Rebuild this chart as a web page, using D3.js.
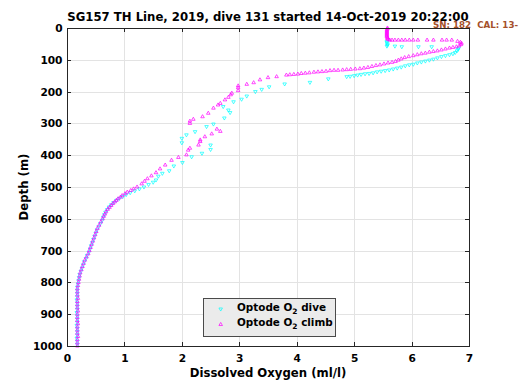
<!DOCTYPE html>
<html><head><meta charset="utf-8">
<script src="https://cdn.jsdelivr.net/npm/d3@7"></script>
<style>
body{margin:0;background:#fff}
svg{display:block}
text{font-family:"DejaVu Sans",sans-serif;font-weight:bold}
</style>
</head><body>
<svg id="chart" width="520" height="390"></svg>
<script>
// ---- data ----
const xTicks = [0, 1, 2, 3, 4, 5, 6, 7];
const yTicks = [0, 100, 200, 300, 400, 500, 600, 700, 800, 900, 1000];
const titleText = "SG157 TH Line, 2019, dive 131 started 14-Oct-2019 20:22:00";
const subtitleText = "SN: 182  CAL: 13-";
const xLabelText = "Dissolved Oxygen (ml/l)";
const yLabelText = "Depth (m)";
const legendNames = ["dive", "climb"];

// [O2 (ml/l), depth (m)]
const diveData = [
  [5.57,42],[5.57,46],[5.58,50],[5.58,54],[5.57,57],
  [5.71,57],[5.83,59],[6.12,59],[6.35,59],
  [6.82,63],[6.81,67],[6.79,72],[6.76,77],[6.72,81],[6.66,84],[6.59,87],[6.52,90],[6.45,94],
  [6.38,98],[6.31,101],[6.24,104],[6.17,107],[6.10,110],[6.03,114],[5.96,116],[5.89,119],
  [5.82,123],[5.75,126],[5.68,129],[5.61,132],[5.54,134],[5.47,136],[5.40,138],[5.33,141],
  [5.26,143],[5.19,144],[5.12,146],[5.06,148],[5.00,150],[4.93,152],[4.87,153],
  [4.55,160],[4.23,171],[3.79,176],[3.52,185],[3.39,193],[3.28,200],[3.13,214],[3.04,224],
  [2.90,232],[2.72,247],[2.81,258],[2.84,266],[2.74,283],[2.55,302],[2.43,310],[2.23,326],
  [2.08,336],[2.00,347],[2.00,361],[2.50,368],[2.50,382],[2.35,394],[2.17,405],[2.01,423],
  [1.86,434],[1.78,449],[1.66,457],[1.59,466],[1.55,478],
  [1.50,485],[1.42,492],[1.34,500],[1.26,506],[1.18,512],[1.10,518],[1.03,524],[0.97,530],
  [0.91,536],[0.86,542],[0.81,549],[0.77,556],[0.73,563],[0.70,571],[0.67,579],[0.65,587],
  [0.63,595],[0.61,605],[0.58,615],[0.55,625],[0.52,635],[0.50,645],[0.48,655],[0.46,665],
  [0.44,675],[0.42,685],[0.40,695],[0.38,705],[0.35,715],[0.33,725],[0.30,735],[0.28,745],
  [0.26,755],[0.24,765],[0.22,775],[0.21,785],[0.20,795],[0.19,805],[0.18,815],[0.18,825],
  [0.18,835],[0.18,845],[0.17,855],[0.18,865],[0.18,875],[0.18,885],[0.17,895],[0.18,905],
  [0.18,915],[0.18,925],[0.17,935],[0.18,945],[0.18,955],[0.18,965],[0.17,975],[0.18,985],[0.18,995]
];

const climbData = [
  [5.58,0],[5.58,3],[5.57,6],[5.57,9],[5.57,12],[5.57,15],[5.57,18],[5.57,21],[5.57,24],
  [5.57,27],[5.58,30],[5.58,33],[5.59,36],[5.62,38],
  [5.66,38],[5.71,38],[5.77,38],[5.83,38],[5.89,38],[5.96,38],[6.03,38],[6.11,38],
  [6.27,38],[6.38,38],[6.53,38],[6.61,38],[6.70,38],
  [6.80,42],[6.85,45],[6.87,48],[6.86,52],[6.83,56],[6.78,59],[6.72,61],[6.66,63],[6.59,66],
  [6.52,69],[6.45,72],[6.38,74],[6.31,76],[6.24,79],[6.17,81],[6.10,84],[6.03,87],[5.95,90],
  [5.88,93],[5.82,97],[5.77,101],[5.72,105],[5.66,108],[5.59,110],[5.52,113],[5.45,116],
  [5.38,118],[5.31,121],[5.24,124],[5.17,126],[5.10,128],[5.02,129],[4.94,130],[4.87,131],
  [4.80,132],[4.72,133],[4.65,133],[4.58,134],[4.51,136],[4.44,137],[4.37,138],[4.30,139],
  [4.22,141],[4.15,142],[4.08,143],[4.02,145],[3.95,146],[3.88,147],[3.82,148],
  [3.65,153],[3.50,156],[3.36,163],[3.25,172],[3.13,177],[2.98,182],[2.98,188],[2.98,197],
  [2.87,205],[2.85,210],[2.81,218],[2.75,226],[2.67,237],[2.63,242],[2.55,252],[2.46,268],
  [2.36,279],[2.20,287],[2.14,293],[2.14,300],[2.61,318],[2.67,325],[2.52,333],[2.40,342],
  [2.32,352],[2.32,357],[2.29,368],[2.14,378],[2.11,384],[2.08,399],[1.94,407],[1.82,416],
  [1.71,431],[1.62,443],[1.55,455],[1.47,465],
  [1.40,474],[1.35,482],[1.30,490],[1.22,500],[1.16,506],[1.11,511],[1.05,516],[1.01,521],
  [0.96,527],[0.93,532],[0.89,537],[0.86,542],[0.83,547],[0.80,552],[0.77,558],[0.74,564],
  [0.71,570],[0.68,578],[0.66,585],[0.64,592],[0.62,600],[0.59,610],[0.56,620],[0.53,630],
  [0.51,640],[0.49,650],[0.47,660],[0.45,670],[0.43,680],[0.41,690],[0.39,700],[0.37,710],
  [0.34,720],[0.31,730],[0.29,740],[0.27,750],[0.25,760],[0.23,770],[0.22,780],[0.21,790],
  [0.20,800],[0.19,810],[0.18,820],[0.18,830],[0.18,840],[0.19,850],[0.18,860],[0.18,870],
  [0.18,880],[0.19,890],[0.18,900],[0.18,910],[0.18,920],[0.19,930],[0.18,940],[0.18,950],
  [0.18,960],[0.19,970],[0.18,980],[0.18,990],[0.18,1000]
];

// ---- drawing ----
const svg = d3.select("#chart");
const W = 520, H = 390;
const plot = {left: 67, right: 469, top: 28, bottom: 346};
const x = d3.scaleLinear().domain([0, 7]).range([plot.left, plot.right]);
const y = d3.scaleLinear().domain([0, 1000]).range([plot.top, plot.bottom]);

svg.append("rect").attr("width", W).attr("height", H).attr("fill", "#fff");

const axisColor = "#262626";
const gridColor = "#e3e3e3";

// grid
const grid = svg.append("g").attr("shape-rendering", "crispEdges");
grid.selectAll(".gx").data(xTicks.slice(1, -1)).join("line")
  .attr("x1", d => Math.round(x(d)) + 0.5).attr("x2", d => Math.round(x(d)) + 0.5)
  .attr("y1", plot.top).attr("y2", plot.bottom).attr("stroke", gridColor);
grid.selectAll(".gy").data(yTicks.slice(1, -1)).join("line")
  .attr("y1", d => Math.round(y(d)) + 0.5).attr("y2", d => Math.round(y(d)) + 0.5)
  .attr("x1", plot.left).attr("x2", plot.right).attr("stroke", gridColor);

// markers
const triUp = d3.symbol().type(d3.symbolTriangle).size(5.5);
function drawSeries(data, color, down) {
  svg.append("g").selectAll("path").data(data).join("path")
    .attr("d", triUp)
    .attr("transform", d => `translate(${x(d[0])},${y(d[1])})` + (down ? " rotate(180)" : ""))
    .attr("fill", "none").attr("stroke", color).attr("stroke-width", 0.7);
}
drawSeries(diveData, "#00ffff", true);
drawSeries(climbData, "#ff00ff", false);

// axes
function styleAxis(g) {
  g.selectAll("path.domain").attr("stroke", axisColor);
  g.selectAll(".tick line").attr("stroke", axisColor);
  g.selectAll("text").attr("fill", "#000").attr("font-size", "10.6px")
    .attr("font-family", "DejaVu Sans").attr("font-weight", "bold");
}
const ax = (g) => g.attr("shape-rendering", "crispEdges");
svg.append("g").attr("transform", `translate(0,${plot.bottom})`).call(ax)
  .call(d3.axisBottom(x).tickValues(xTicks).tickFormat(d3.format("d")).tickSizeInner(-4).tickSizeOuter(0).tickPadding(8))
  .call(styleAxis);
svg.append("g").attr("transform", `translate(0,${plot.top})`).call(ax)
  .call(d3.axisTop(x).tickValues(xTicks).tickFormat("").tickSizeInner(-4).tickSizeOuter(0))
  .call(styleAxis);
svg.append("g").attr("transform", `translate(${plot.left},0)`).call(ax)
  .call(d3.axisLeft(y).tickValues(yTicks).tickFormat(d3.format("d")).tickSizeInner(-4).tickSizeOuter(0).tickPadding(4.5))
  .call(styleAxis);
svg.append("g").attr("transform", `translate(${plot.right},0)`).call(ax)
  .call(d3.axisRight(y).tickValues(yTicks).tickFormat("").tickSizeInner(-4).tickSizeOuter(0))
  .call(styleAxis);

// labels
svg.append("text").attr("x", (plot.left + plot.right) / 2).attr("y", 21)
  .attr("text-anchor", "middle").attr("font-size", "11.7px").attr("fill", "#000").text(titleText);
svg.append("text").attr("x", 433).attr("y", 28).attr("xml:space", "preserve").style("white-space", "pre")
  .attr("font-size", "8.7px").attr("fill", "#a5502a").text(subtitleText);
svg.append("text").attr("x", (plot.left + plot.right) / 2).attr("y", 377)
  .attr("text-anchor", "middle").attr("font-size", "11.7px").attr("fill", "#000").text(xLabelText);
svg.append("text").attr("transform", `translate(28,${(plot.top + plot.bottom) / 2}) rotate(-90)`)
  .attr("text-anchor", "middle").attr("font-size", "11.7px").attr("fill", "#000").text(yLabelText);

// legend
const lg = svg.append("g");
lg.append("rect").attr("x", 203.5).attr("y", 298.5).attr("width", 132).attr("height", 38)
  .attr("fill", "#ebebeb").attr("stroke", "#4a4a4a").attr("stroke-width", 1);
const legendColors = ["#00ffff", "#ff00ff"];
legendNames.forEach((name, i) => {
  const yy = 310.5 + i * 15.5;
  lg.append("path").attr("d", triUp)
    .attr("transform", `translate(220.7,${yy - 1.5})` + (i === 0 ? " rotate(180)" : ""))
    .attr("fill", "none").attr("stroke", legendColors[i]).attr("stroke-width", 0.7);
  const t = lg.append("text").attr("x", 237).attr("y", yy).attr("font-size", "10.4px").attr("fill", "#000");
  t.append("tspan").text("Optode O");
  t.append("tspan").attr("font-size", "7.5px").attr("dy", 3).text("2");
  t.append("tspan").attr("dy", -3).text(" " + name);
});
</script>
</body></html>
